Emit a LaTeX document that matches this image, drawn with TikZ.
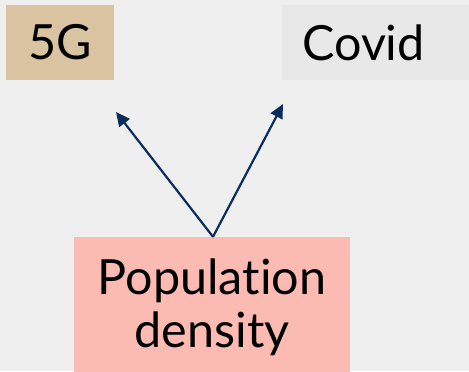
\documentclass[tikz,border=0pt]{standalone}
\usepackage{fontspec}
\setmainfont[Ligatures={NoCommon}]{Lato}
\usetikzlibrary{arrows.meta}
\definecolor{bg}{HTML}{EFEFEF}
\definecolor{tan}{HTML}{D9C3A0}
\definecolor{boxgray}{HTML}{E8E8E8}
\definecolor{pinkbox}{HTML}{FBBAB2}
\definecolor{navy}{HTML}{0B2D5E}
\tikzset{
  box/.style={rectangle, inner sep=0pt, font=\fontsize{48.5bp}{53bp}\selectfont, align=center, text=black},
  arr/.style={draw=navy, line width=2.2bp, -{Triangle[length=14bp,width=13bp]}}
}
\begin{document}
\begin{tikzpicture}[x=1bp,y=-1bp]
\fill[bg] (0,0) rectangle (469,371);
\useasboundingbox (0,0) rectangle (469,371);
\node[box, fill=tan, minimum width=108bp, minimum height=75bp] (g5) at (60,42.5) {5G};
\node[box, fill=boxgray, minimum width=187bp, minimum height=75bp] (covid) at (375.5,42.5) {Covid\hspace{24bp}};
\node[box, fill=pinkbox, minimum width=276bp, minimum height=140bp] (pop) at (212,307) {Population\\density};
\coordinate (t1) at (116,112);
\coordinate (t2) at (283,104);
\draw[arr] (pop.north) ++(1,0) -- (t1);
\draw[arr] (pop.north) ++(1,0) -- (t2);
\end{tikzpicture}
\end{document}
